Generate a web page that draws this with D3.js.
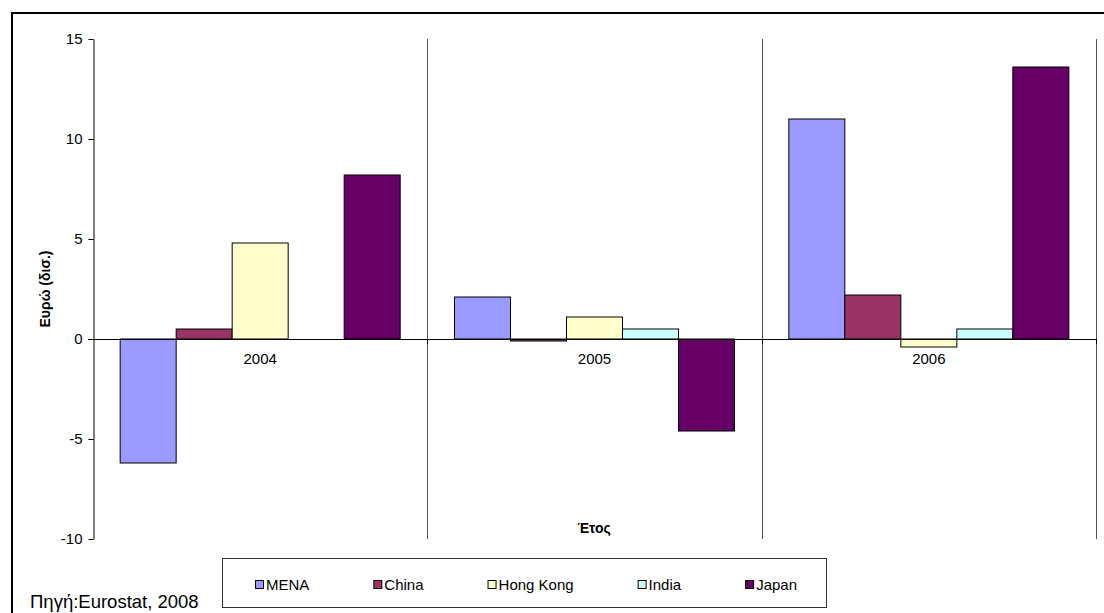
<!DOCTYPE html>
<html>
<head>
<meta charset="utf-8">
<script src="https://cdn.jsdelivr.net/npm/d3@7/dist/d3.min.js"></script>
<style>
  html, body { margin: 0; padding: 0; background: #fff; }
  svg { display: block; font-family: "Liberation Sans", Arial, sans-serif; }
</style>
</head>
<body>
<svg id="chart" width="1104" height="613"></svg>
<script>
// Trade balance by partner, billions of euro
const years = ["2004", "2005", "2006"];
const series = ["MENA", "China", "Hong Kong", "India", "Japan"];
const menaValues     = [-6.2,  2.1, 11.0];
const chinaValues    = [ 0.5, -0.1,  2.2];
const hongKongValues = [ 4.8,  1.1, -0.4];
const indiaValues    = [ 0.0,  0.5,  0.5];
const japanValues    = [ 8.2, -4.6, 13.6];
const yTicks = [-10, -5, 0, 5, 10, 15];
const colors = ["#9999FF", "#993366", "#FFFFCC", "#CCFFFF", "#660066"];

const valuesBySeries = [menaValues, chinaValues, hongKongValues, indiaValues, japanValues];
const rows = years.map((yr, i) => ({
  year: yr,
  values: series.map((s, j) => ({ series: s, value: valuesBySeries[j][i], color: colors[j] }))
}));

const svg = d3.select("#chart");

// outer frame
svg.append("rect")
  .attr("x", 12).attr("y", 13)
  .attr("width", 1110).attr("height", 620)
  .attr("fill", "none").attr("stroke", "#000").attr("stroke-width", 2);

const plot = { left: 93, right: 1096, top: 39, bottom: 539 };

const y = d3.scaleLinear().domain([-10, 15]).range([plot.bottom, plot.top]);
const x0 = d3.scaleBand().domain(years).range([plot.left, plot.right]).paddingInner(0).paddingOuter(0);
const x1 = d3.scaleBand().domain(series).range([0, x0.bandwidth()]).paddingInner(0).paddingOuter(0.485);

// category separators
svg.append("g")
  .selectAll("line")
  .data(years)
  .join("line")
  .attr("x1", d => Math.round(x0(d) + x0.bandwidth()) + 0.5)
  .attr("x2", d => Math.round(x0(d) + x0.bandwidth()) + 0.5)
  .attr("y1", plot.top)
  .attr("y2", plot.bottom)
  .attr("stroke", "#555")
  .attr("stroke-width", 1);

// bars
const groups = svg.append("g")
  .selectAll("g")
  .data(rows)
  .join("g")
  .attr("transform", d => `translate(${x0(d.year)},0)`);

groups.selectAll("rect")
  .data(d => d.values.filter(v => v.value !== 0))
  .join("rect")
  .attr("x", d => x1(d.series))
  .attr("width", x1.bandwidth())
  .attr("y", d => y(Math.max(0, d.value)))
  .attr("height", d => Math.abs(y(d.value) - y(0)))
  .attr("fill", d => d.color)
  .attr("stroke", "#000")
  .attr("stroke-width", 1);

// zero baseline
svg.append("line")
  .attr("x1", plot.left - 5).attr("x2", plot.right)
  .attr("y1", Math.round(y(0)) + 0.5).attr("y2", Math.round(y(0)) + 0.5)
  .attr("stroke", "#000").attr("stroke-width", 1);

// category tick marks at boundaries on the baseline
svg.append("g")
  .selectAll("line")
  .data(years)
  .join("line")
  .attr("x1", d => Math.round(x0(d) + x0.bandwidth()) + 0.5)
  .attr("x2", d => Math.round(x0(d) + x0.bandwidth()) + 0.5)
  .attr("y1", y(0))
  .attr("y2", y(0) + 5)
  .attr("stroke", "#000");

// category labels
svg.append("g")
  .selectAll("text")
  .data(years)
  .join("text")
  .attr("x", d => x0(d) + x0.bandwidth() / 2)
  .attr("y", y(0) + 25)
  .attr("text-anchor", "middle")
  .attr("font-size", 15)
  .attr("fill", "#000")
  .text(d => d);

// y axis
const yAxis = svg.append("g")
  .attr("transform", `translate(${plot.left + 0.5},0)`)
  .call(d3.axisLeft(y).tickValues(yTicks).tickFormat(d => String(d))
    .tickSize(5).tickSizeOuter(0).tickPadding(6));
yAxis.select(".domain").attr("stroke", "#000");
yAxis.selectAll(".tick line").attr("stroke", "#000");
yAxis.selectAll(".tick text")
  .attr("font-size", 15)
  .attr("font-family", "\"Liberation Sans\", Arial, sans-serif")
  .attr("fill", "#000");

// axis titles
svg.append("text")
  .attr("transform", `translate(50,${(plot.top + plot.bottom) / 2}) rotate(-90)`)
  .attr("text-anchor", "middle")
  .attr("font-size", 14)
  .attr("font-weight", "bold")
  .text("Ευρώ (δισ.)");

svg.append("text")
  .attr("x", 594).attr("y", 533)
  .attr("text-anchor", "middle")
  .attr("font-size", 14)
  .attr("font-weight", "bold")
  .text("Έτος");

// legend
const legend = svg.append("g");
legend.append("rect")
  .attr("x", 222.5).attr("y", 558.5)
  .attr("width", 604).attr("height", 49)
  .attr("fill", "#fff").attr("stroke", "#333").attr("stroke-width", 1);

let lx = 255;
series.forEach((s, i) => {
  legend.append("rect")
    .attr("x", lx + 0.5).attr("y", 580.5)
    .attr("width", 8).attr("height", 8)
    .attr("fill", colors[i]).attr("stroke", "#000").attr("stroke-width", 1);
  const t = legend.append("text")
    .attr("x", lx + 11).attr("y", 590)
    .attr("font-size", 15)
    .text(s);
  lx += 11 + t.node().getComputedTextLength() + 64;
});

// source note
svg.append("text")
  .attr("x", 30).attr("y", 608)
  .attr("font-size", 18.5)
  .text("Πηγή:Eurostat, 2008");
</script>
</body>
</html>
